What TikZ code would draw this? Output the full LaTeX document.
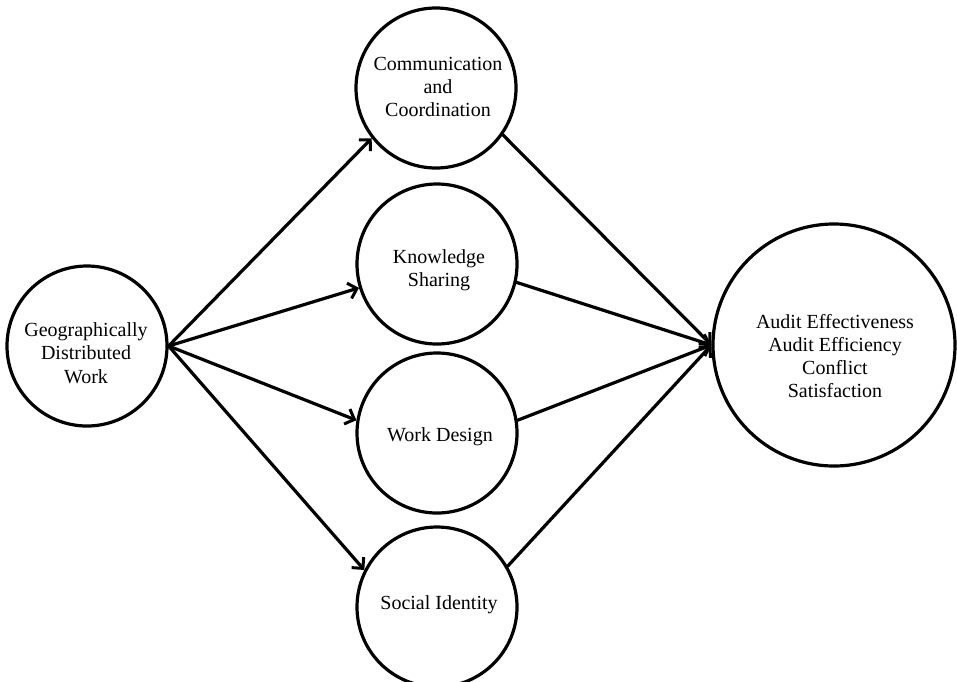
\documentclass[tikz,border=0pt]{standalone}
\usepackage{fontspec}
\setmainfont{Liberation Serif}
\usetikzlibrary{arrows.meta}
\begin{document}
\begin{tikzpicture}[x=1pt,y=-1pt,
  bubble/.style={draw=black,line width=3.2pt,circle,minimum size=160pt,inner sep=0pt},
  bigbubble/.style={bubble,minimum size=242pt},
  lbl/.style={align=center,font=\fontsize{20}{23.3}\selectfont,inner sep=0pt},
  link/.style={line width=3.2pt,line cap=round,-{Straight Barb[length=8pt,width=16pt,line width=3pt]}}]
\useasboundingbox (0,0) rectangle (957,681);
\node[bubble] (geo) at (87,346) {};
\node[bubble] (comm) at (436,88) {};
\node[bubble] (ks) at (437,264) {};
\node[bubble] (wd) at (437,433) {};
\node[bubble] (si) at (437,607) {};
\node[bigbubble] (out) at (834,345) {};
\node[lbl] (geoT) at (86,353) {Geographically\\Distributed\\Work};
\node[lbl] (commT) at (438,87) {Communication\\and\\Coordination};
\node[lbl] (ksT) at (439,270) {Knowledge\\Sharing};
\node[lbl] (wdT) at (440,437) {Work Design};
\node[lbl] (siT) at (439,605) {Social Identity};
\node[lbl] (outT) at (835,356) {Audit Effectiveness\\Audit Efficiency\\Conflict\\Satisfaction};
\draw[link] (geo.east) -- (comm.218);
\draw[link] (geo.east) -- (ks.197);
\draw[link] (geo.east) -- (wd.171);
\draw[link] (geo.east) -- (si.153);
\draw[link] (comm.-35) -- (out.west);
\draw[link] (ks.-13) -- (out.west);
\draw[link] (wd.9) -- (out.west);
\draw[link] (si.30) -- (out.west);
\end{tikzpicture}
\end{document}
